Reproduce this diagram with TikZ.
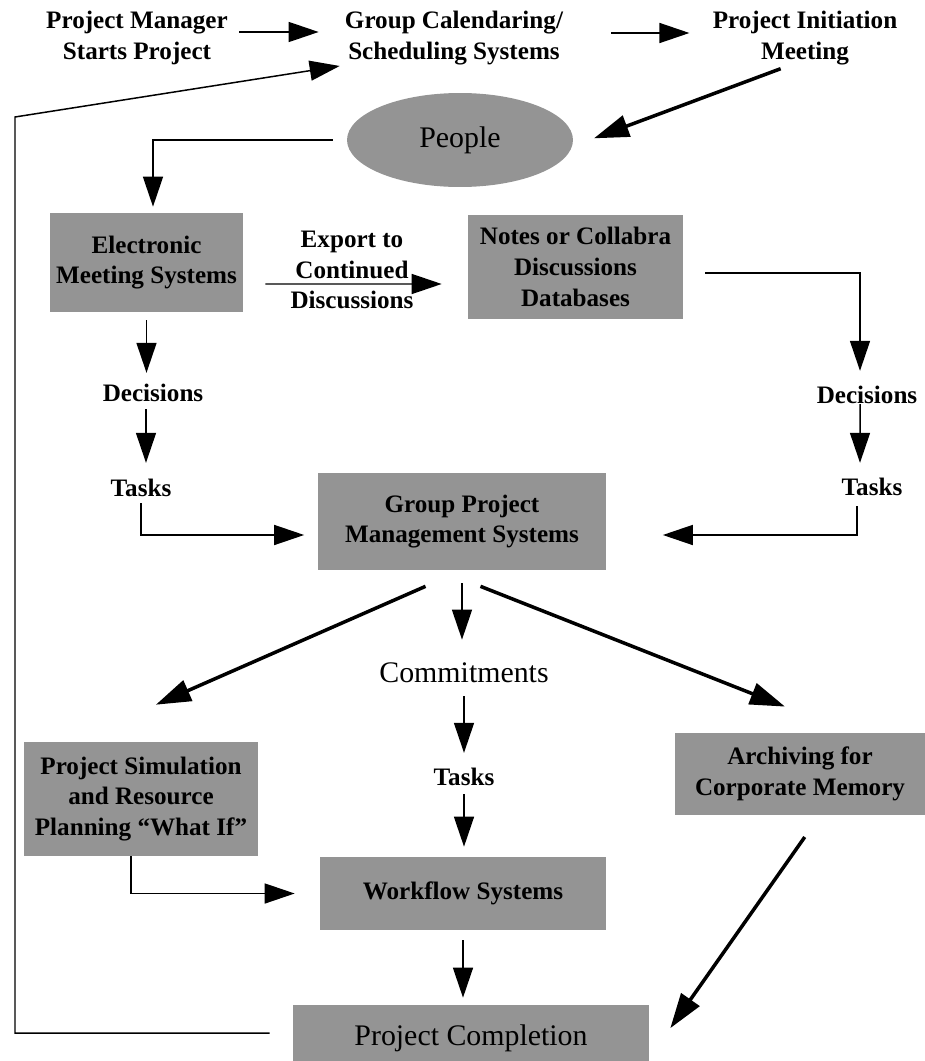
\documentclass[tikz,border=0pt]{standalone}
\usepackage{fontspec}
\setmainfont{Liberation Serif}
\usetikzlibrary{arrows.meta,shapes.geometric}
\definecolor{dither}{gray}{0.58}
\begin{document}
\begin{tikzpicture}[x=0.02cm,y=-0.02cm,
        word/.style={font=\bfseries\fontsize{14.3}{17.5}\selectfont,align=center,inner sep=0pt},
        bigword/.style={font=\fontsize{17}{20}\selectfont,align=center,inner sep=0pt},
        sysbox/.style={word,fill=dither},
        link/.style={line width=0.85pt,-{Triangle[length=0.6cm,width=0.4cm]}},
        heavy/.style={line width=2pt,-{Triangle[length=0.7cm,width=0.44cm]}}]
        \useasboundingbox (0,0) rectangle (925,1061);
        % top row
        \node[word] (pm)  at (137,38) {Project Manager\\Starts Project};
        \node[word] (gcs) at (454,38) {Group Calendaring/\\Scheduling Systems};
        \node[word] (pim) at (805,38) {Project Initiation\\Meeting};
        \node[ellipse,fill=dither,minimum width=4.52cm,minimum height=1.88cm,bigword] (people) at (460,140) {People};
        % meetings and discussions
        \node[sysbox,minimum width=3.86cm,minimum height=1.98cm] (ems) at (146.5,262.5) {Electronic\\Meeting Systems};
        \node[sysbox,minimum width=4.3cm,minimum height=2.1cm] (notes) at (575.5,267) {Notes or Collabra\\Discussions\\Databases};
        \node[word] (export) at (352,270) {Export to\\Continued\\Discussions};
        \node[word] (decL)  at (153,393) {Decisions};
        \node[word] (taskL) at (141,488) {Tasks};
        \node[word] (decR)  at (867,395) {Decisions};
        \node[word] (taskR) at (872,487) {Tasks};
        \node[sysbox,minimum width=5.78cm,minimum height=1.94cm] (gpms) at (462,521.5) {Group Project\\Management Systems};
        % after project management
        \node[bigword] (commit) at (464,673) {Commitments};
        \node[word] (taskM) at (464,777) {Tasks};
        \node[sysbox,minimum width=4.68cm,minimum height=2.28cm] (sim) at (141,799) {Project Simulation\\and Resource\\Planning “What If”};
        \node[sysbox,minimum width=5cm,minimum height=1.64cm] (arch) at (800,774) {Archiving for\\Corporate Memory};
        \node[sysbox,minimum width=5.72cm,minimum height=1.46cm] (flow) at (463,893.5) {Workflow Systems};
        \node[sysbox,bigword,minimum width=7.12cm,minimum height=1.32cm] (done) at (471,1038) {Project Completion};
        \coordinate (lb) at (15,1033);
        \coordinate (lt) at (15,117);
        % connectors
        \draw[link,shorten <=0.22cm,shorten >=0.52cm] ([yshift=0.12cm]pm.east) -- ([yshift=0.12cm]gcs.west);
        \draw[link,shorten <=0.96cm,shorten >=0.46cm] ([yshift=0.1cm]gcs.east) -- ([yshift=0.1cm]pim.west);
        \draw[heavy,shorten <=0.2cm,shorten >=0.44cm] ([xshift=-0.3cm]pim.south) -- ([yshift=-0.12cm]people.east);
        \draw[link,shorten <=0.28cm,shorten >=0.12cm] (people.west) -| ([xshift=0.13cm]ems.north);
        \draw[link,shorten <=0.44cm,shorten >=0.52cm] ([yshift=-0.43cm]ems.east) -- ([yshift=-0.34cm]notes.west);
        \draw[link,shorten <=0.44cm,shorten >=0.3cm] ([yshift=-0.12cm]notes.east) -| ([xshift=-0.14cm]decR.north);
        \draw[link,shorten >=0.3cm] ([xshift=-0.14cm]decR.south) -- ([xshift=-0.24cm]taskR.north);
        \draw[link,shorten <=0.2cm,shorten >=1.12cm] ([xshift=-0.3cm]taskR.south) |- ([yshift=-0.27cm]gpms.east);
        \draw[link,shorten <=0.16cm,shorten >=0.22cm] (ems.south) -- (ems.south |- decL.north);
        \draw[link,shorten <=0.14cm,shorten >=0.32cm] ([xshift=-0.14cm]decL.south) -- ([xshift=-0.14cm]decL.south |- taskL.north);
        \draw[link,shorten <=0.12cm,shorten >=0.26cm] (taskL.south) |- ([yshift=-0.27cm]gpms.west);
        \draw[heavy,shorten >=1.84cm] ([xshift=-0.73cm,yshift=-0.32cm]gpms.south) -- ([xshift=0.96cm]sim.north west);
        \draw[link,shorten <=0.26cm,shorten >=0.46cm] (gpms.south) -- (gpms.south |- commit.north);
        \draw[heavy,shorten >=1.42cm] ([xshift=0.37cm,yshift=-0.32cm]gpms.south) -- ([xshift=1.02cm]arch.north);
        \draw[link,shorten <=0.26cm,shorten >=0.3cm] (commit.south) -- (taskM.north);
        \draw[link,shorten <=0.16cm,shorten >=0.2cm] (taskM.south) -- (taskM.south |- flow.north);
        \draw[link,shorten >=0.5cm] ([xshift=-0.2cm]sim.south) |- (flow.west);
        \draw[link,shorten <=0.2cm,shorten >=0.14cm] (flow.south) -- (flow.south |- done.north);
        \draw[heavy,shorten <=0.53cm,shorten >=0.73cm] ([xshift=0.4cm]arch.south) -- ([yshift=-0.4cm]done.east);
        \draw[link,shorten <=0.46cm,shorten >=0.1cm] (done.west |- lb) -- (lb) -- (lt) -- (gcs.south west);
\end{tikzpicture}
\end{document}
